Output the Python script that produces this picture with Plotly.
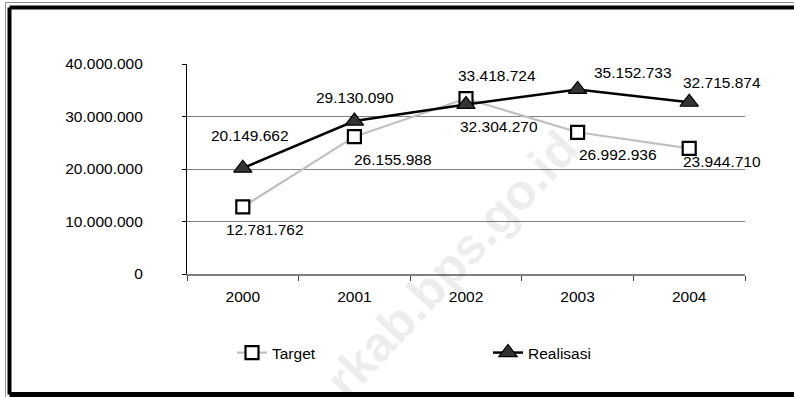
import plotly.graph_objects as go

# Series data
years = ["2000", "2001", "2002", "2003", "2004"]
target = [12781762, 26155988, 33418724, 26992936, 23944710]
realisasi = [20149662, 29130090, 32304270, 35152733, 32715874]

# Value-label offsets from each point (pixels: right, up)
target_label_shift = [(22, -23), (39, -23), (31, 23), (40, -22), (33, -13)]
realisasi_label_shift = [(7, 33), (1, 24), (33, -22), (55, 17), (33, 20)]

W, H = 794, 397
L, R, T, B = 187, 49, 64, 123
PW, PH = W - L - R, H - T - B

FONT = "Liberation Sans, Arial, sans-serif"
FS = 15.5


def px_x(x):
    return (x - L) / PW


def px_y(y):
    return (H - B - y) / PH


def fmt(v):
    return f"{v:,}".replace(",", ".")


fig = go.Figure()

fig.add_trace(go.Scatter(
    x=years, y=target, name="Target", mode="lines+markers",
    line=dict(color="#c0c0c0", width=2.2),
    marker=dict(symbol="square", size=13, color="white",
                line=dict(color="black", width=2.2)),
))
fig.add_trace(go.Scatter(
    x=years, y=realisasi, name="Realisasi", mode="lines+markers",
    line=dict(color="black", width=2.5),
    marker=dict(symbol="triangle-up", size=16, color="#333333",
                line=dict(color="black", width=1.2)),
))

annotations = []
# category positions are given by index so the year strings are not read as numbers
for i, (v, (dx, dy)) in enumerate(zip(target, target_label_shift)):
    annotations.append(dict(x=i, y=v, text=fmt(v), showarrow=False,
                            xshift=dx, yshift=dy,
                            font=dict(family=FONT, size=FS, color="black")))
for i, (v, (dx, dy)) in enumerate(zip(realisasi, realisasi_label_shift)):
    annotations.append(dict(x=i, y=v, text=fmt(v), showarrow=False,
                            xshift=dx, yshift=dy,
                            font=dict(family=FONT, size=FS, color="black")))

# faint diagonal watermark
annotations.append(dict(
    xref="paper", yref="paper", x=px_x(452), y=px_y(264),
    text="rkab.bps.go.id", showarrow=False, textangle=-47,
    xanchor="center", yanchor="middle",
    font=dict(family=FONT, size=50, weight=700, color="rgba(0,0,0,0.07)"),
))

# double chart border (thin grey + thick black)
shapes = [
    dict(type="line", xref="paper", yref="paper",
         x0=px_x(5.5), x1=px_x(800), y0=px_y(2.5), y1=px_y(2.5),
         line=dict(color="#909090", width=1)),
    dict(type="line", xref="paper", yref="paper",
         x0=px_x(5.5), x1=px_x(5.5), y0=px_y(2.5), y1=px_y(400),
         line=dict(color="#909090", width=1)),
    dict(type="line", xref="paper", yref="paper",
         x0=px_x(9.5), x1=px_x(800), y0=px_y(7.5), y1=px_y(7.5),
         line=dict(color="black", width=4)),
    dict(type="line", xref="paper", yref="paper",
         x0=px_x(9.5), x1=px_x(9.5), y0=px_y(7.5), y1=px_y(394.5),
         line=dict(color="black", width=4)),
    dict(type="line", xref="paper", yref="paper",
         x0=px_x(9.5), x1=px_x(800), y0=px_y(394.5), y1=px_y(394.5),
         line=dict(color="black", width=5)),
]

fig.update_layout(
    width=W, height=H,
    margin=dict(l=L, r=R, t=T, b=B),
    paper_bgcolor="white", plot_bgcolor="white",
    separators=",.",
    font=dict(family=FONT, size=FS, color="black"),
    showlegend=True,
    legend=dict(orientation="h", x=px_x(232), y=px_y(353),
                xanchor="left", yanchor="middle",
                entrywidth=211, font=dict(family=FONT, size=FS),
                bgcolor="rgba(0,0,0,0)"),
    annotations=annotations,
    shapes=shapes,
)

fig.update_xaxes(
    type="category", range=[-0.5, 4.5], tickson="boundaries",
    ticks="outside", ticklen=5, tickangle=0,
    tickcolor="#404040", showline=True, linecolor="#808080", linewidth=1.5,
    showgrid=False, ticklabelstandoff=8,
    tickfont=dict(family=FONT, size=FS),
)
fig.update_yaxes(
    range=[0, 40000000], dtick=10000000, tickformat=",d",
    ticks="outside", ticklen=4, tickcolor="black",
    showline=True, linecolor="black", linewidth=1.2,
    showgrid=True, gridcolor="#808080", gridwidth=1.2, zeroline=False,
    ticklabelstandoff=36, tickfont=dict(family=FONT, size=FS),
)

fig.write_html("out.html")
